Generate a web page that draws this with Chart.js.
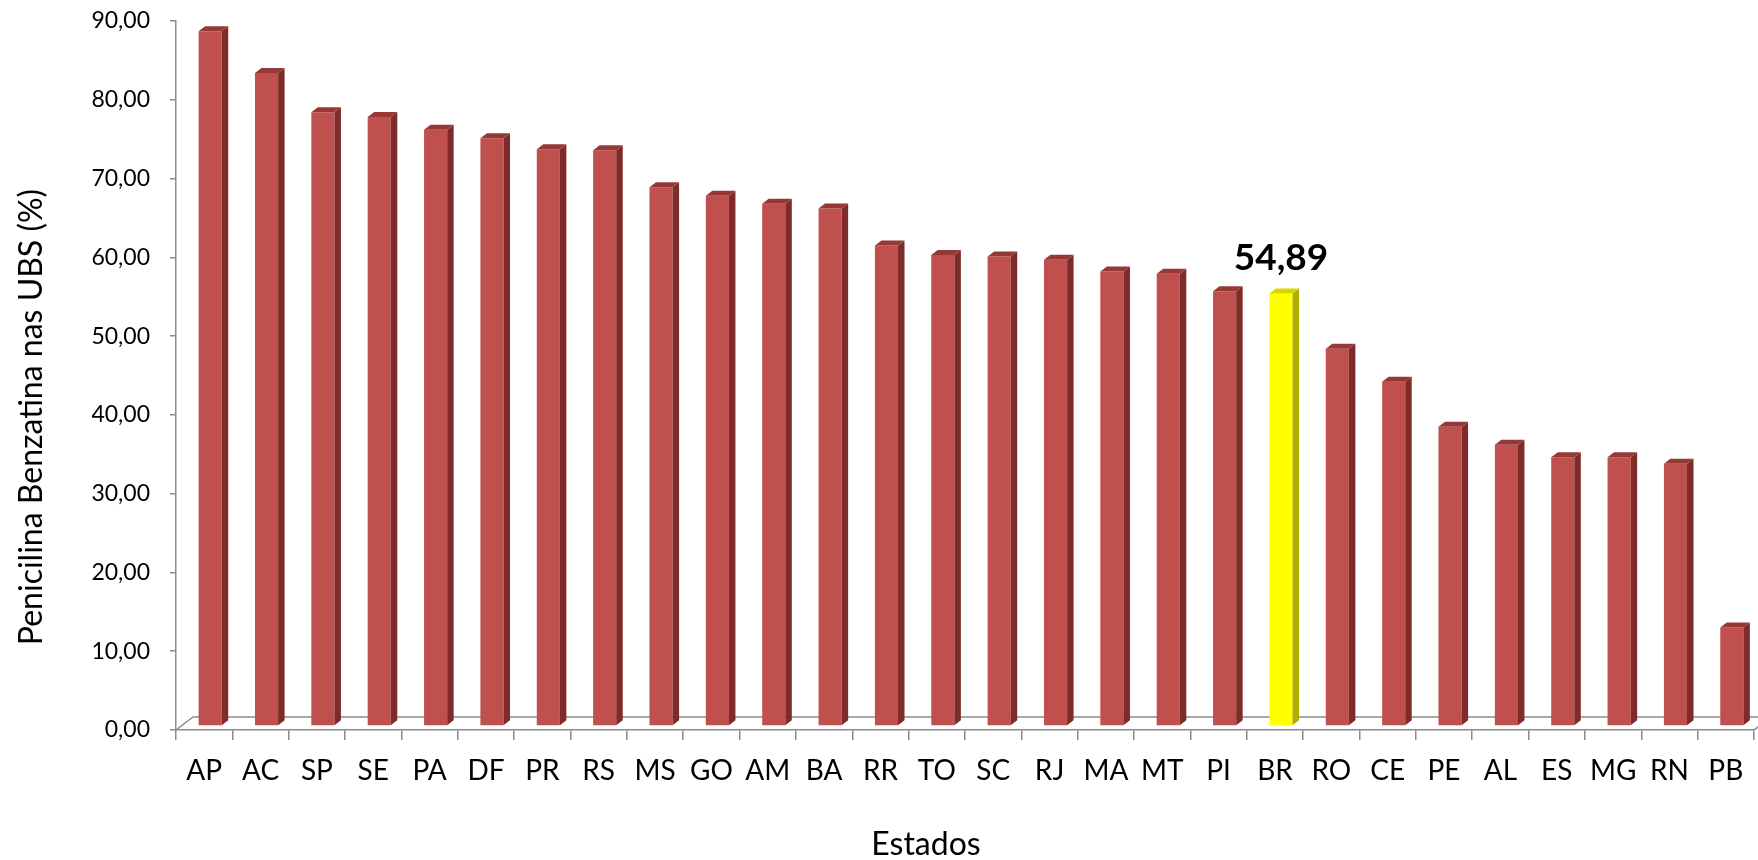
<!DOCTYPE html>
<html lang="pt-BR">
<head>
<meta charset="utf-8">
<title>Penicilina Benzatina nas UBS por Estado</title>
<script src="https://cdn.jsdelivr.net/npm/chart.js@4.4.1/dist/chart.umd.min.js"></script>
<style>
  html, body { margin: 0; padding: 0; background: #ffffff; }
  #wrap { width: 1758px; height: 860px; }
</style>
</head>
<body>
<div id="wrap"><canvas id="grafico" width="1758" height="860"></canvas></div>
<script>
// Estados e percentual de UBS com Penicilina Benzatina
const estados = ['AP','AC','SP','SE','PA','DF','PR','RS','MS','GO','AM','BA','RR','TO',
                 'SC','RJ','MA','MT','PI','BR','RO','CE','PE','AL','ES','MG','RN','PB'];
const valores = [88.2, 82.9, 77.9, 77.3, 75.7, 74.6, 73.2, 73.1, 68.4, 67.3, 66.3, 65.7, 61.0, 59.8,
                 59.6, 59.2, 57.7, 57.4, 55.2, 54.89, 47.9, 43.7, 38.0, 35.7, 34.1, 34.1, 33.3, 12.5];
const destaque = 'BR';
const eixoYMin = 0;
const eixoYMax = 90;
const eixoYPasso = 10;

const tituloY = 'Penicilina Benzatina nas UBS (%)';
const tituloX = 'Estados';

const FONTE = 'Lato, "Open Sans", sans-serif';

// aparência 3D
const COR = { frente: '#C0504D', lado: '#7E2C2A', topo: '#963835' };
const COR_DESTAQUE = { frente: '#FFFF00', lado: '#B0B000', topo: '#D8D800' };
const PISO = { dx: 17, dy: 13 };          // profundidade do piso
const DESLOC = { dx: 6, dy: 4 };          // posição das barras dentro do piso
const FACE = { dx: 6.5, dy: 5 };          // espessura lateral/superior das barras

const fmt = v => Number(v).toFixed(2).replace('.', ',');

const colunas3D = {
  id: 'colunas3D',
  beforeDatasetsDraw(chart) {
    const { ctx, chartArea: a } = chart;
    ctx.save();
    ctx.strokeStyle = '#8c8c8c';
    ctx.lineWidth = 1.5;
    ctx.beginPath();
    ctx.moveTo(a.left, a.bottom);
    ctx.lineTo(a.left + PISO.dx, a.bottom - PISO.dy);
    ctx.lineTo(a.right + PISO.dx, a.bottom - PISO.dy);
    ctx.lineTo(a.right, a.bottom);
    ctx.stroke();
    ctx.restore();
    ctx.save();
    ctx.translate(DESLOC.dx, -DESLOC.dy);
  },
  afterDatasetsDraw(chart) {
    const { ctx } = chart;
    const meta = chart.getDatasetMeta(0);
    meta.data.forEach((bar, i) => {
      const { x, y, base, width } = bar.getProps(['x', 'y', 'base', 'width'], true);
      const c = estados[i] === destaque ? COR_DESTAQUE : COR;
      const L = x - width / 2, R = x + width / 2;
      ctx.fillStyle = c.lado;
      ctx.beginPath();
      ctx.moveTo(R, y);
      ctx.lineTo(R + FACE.dx, y - FACE.dy);
      ctx.lineTo(R + FACE.dx, base - FACE.dy);
      ctx.lineTo(R, base);
      ctx.closePath();
      ctx.fill();
      ctx.fillStyle = c.topo;
      ctx.beginPath();
      ctx.moveTo(L, y);
      ctx.lineTo(L + FACE.dx, y - FACE.dy);
      ctx.lineTo(R + FACE.dx, y - FACE.dy);
      ctx.lineTo(R, y);
      ctx.closePath();
      ctx.fill();
      if (estados[i] === destaque) {
        ctx.fillStyle = '#000000';
        ctx.font = 'bold 37px ' + FONTE;
        ctx.textAlign = 'center';
        ctx.textBaseline = 'alphabetic';
        ctx.fillText(fmt(valores[i]), x, y - 24);
      }
    });
    ctx.restore();
  },
  afterDraw(chart) {
    const { ctx } = chart;
    ctx.save();
    ctx.fillStyle = '#000000';
    ctx.font = '32px ' + FONTE;
    ctx.textAlign = 'center';
    ctx.textBaseline = 'alphabetic';
    ctx.fillText(tituloX, 926, 855);
    ctx.font = '32px ' + FONTE;
    ctx.translate(42, 417);
    ctx.rotate(-Math.PI / 2);
    ctx.fillText(tituloY, 0, 0);
    ctx.restore();
  }
};

new Chart(document.getElementById('grafico'), {
  type: 'bar',
  data: {
    labels: estados,
    datasets: [{
      data: valores,
      backgroundColor: estados.map(e => e === destaque ? COR_DESTAQUE.frente : COR.frente),
      borderWidth: 0,
      barPercentage: 0.41,
      categoryPercentage: 1
    }]
  },
  options: {
    responsive: false,
    animation: false,
    devicePixelRatio: 1,
    layout: { padding: { top: 21, right: 4, left: 0, bottom: 0 } },
    plugins: { legend: { display: false }, tooltip: { enabled: false } },
    scales: {
      x: {
        offset: true,
        grid: { offset: true, drawOnChartArea: false, drawTicks: true, tickLength: 10, color: '#8c8c8c', lineWidth: 1.5 },
        border: { display: true, color: '#8c8c8c', width: 1.5 },
        ticks: { color: '#000000', font: { family: FONTE, size: 28 }, padding: 14, maxRotation: 0, autoSkip: false },
        afterFit(s) { s.height = 130; s.paddingLeft = 0; s.paddingRight = 0; }
      },
      y: {
        min: eixoYMin,
        max: eixoYMax,
        grid: { drawOnChartArea: false, drawTicks: true, tickLength: 6, color: '#8c8c8c', lineWidth: 1.5 },
        border: { display: true, color: '#8c8c8c', width: 1.5 },
        ticks: { stepSize: eixoYPasso, color: '#000000', font: { family: FONTE, size: 23 }, padding: 20, callback: v => fmt(v) },
        afterFit(s) { s.width = 176; s.paddingTop = 0; s.paddingBottom = 0; }
      }
    }
  },
  plugins: [colunas3D]
});
</script>
</body>
</html>
